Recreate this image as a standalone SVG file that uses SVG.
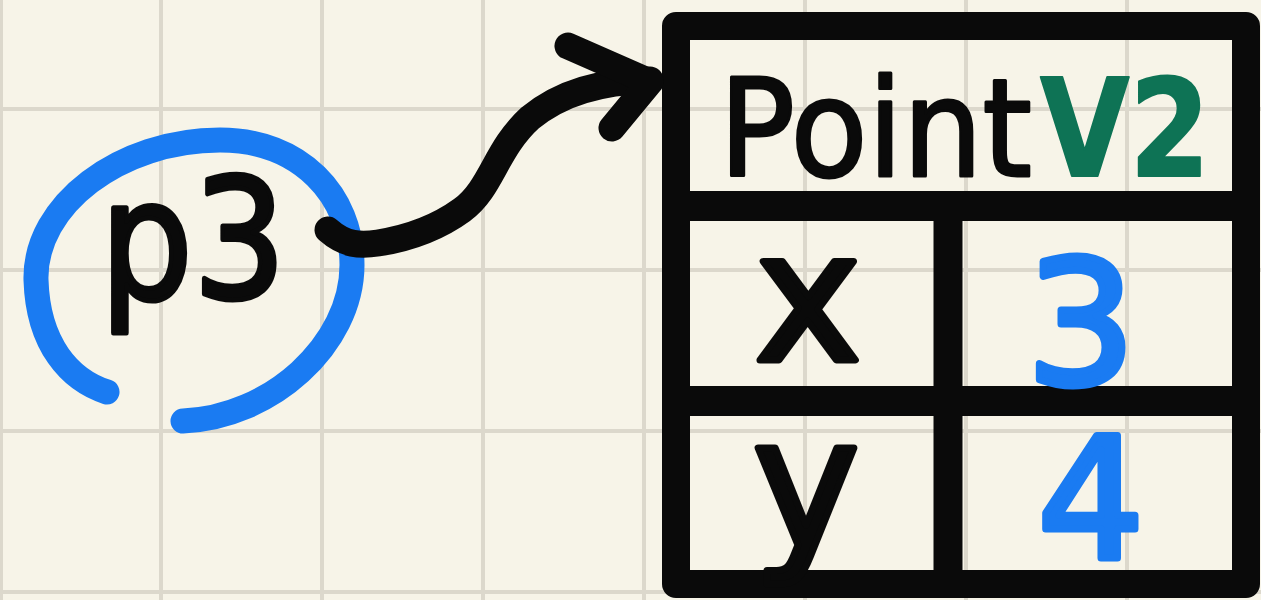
<svg xmlns="http://www.w3.org/2000/svg" width="1261" height="600" viewBox="0 0 1261 600">
<style>
.grid{stroke:#dcd8cc;stroke-width:4;fill:none}
.ink{stroke:#0a0a0a;fill:none;stroke-linecap:round;stroke-linejoin:round}
.bar{stroke:#0a0a0a;fill:none;stroke-linecap:butt}
.t{font-family:"DejaVu Sans","Noto Sans",sans-serif;stroke-linejoin:round}
</style>
<rect x="0" y="0" width="1261" height="600" fill="#f7f4e8"/>
<g id="grid" class="grid">
<line x1="1" y1="0" x2="1" y2="600"/>
<line x1="161" y1="0" x2="161" y2="600"/>
<line x1="322" y1="0" x2="322" y2="600"/>
<line x1="483" y1="0" x2="483" y2="600"/>
<line x1="644" y1="0" x2="644" y2="600"/>
<line x1="805" y1="0" x2="805" y2="600"/>
<line x1="966" y1="0" x2="966" y2="600"/>
<line x1="1127" y1="0" x2="1127" y2="600"/>
<line x1="0" y1="109" x2="1261" y2="109"/>
<line x1="0" y1="270" x2="1261" y2="270"/>
<line x1="0" y1="431" x2="1261" y2="431"/>
<line x1="0" y1="592" x2="1261" y2="592"/>
</g>
<g id="node-p3">
<path d="M107 392 C70 380 38 345 36 280 C34 205 120 140 220 140 C300 140 352 195 352 265 C352 345 270 418 183 421" stroke="#1a7bf2" stroke-width="25" fill="none" stroke-linecap="round"/>
<text class="t" x="100" y="298" font-size="165" fill="#0a0a0a" stroke="#0a0a0a" stroke-width="5" textLength="186" lengthAdjust="spacingAndGlyphs">p3</text>
</g>
<g id="node-PointV2">
<rect x="676" y="26" width="570" height="558" class="ink" stroke-width="28"/>
<line x1="676" y1="206" x2="1246" y2="206" class="bar" stroke-width="30"/>
<line x1="676" y1="401" x2="1246" y2="401" class="bar" stroke-width="30"/>
<line x1="948" y1="206" x2="948" y2="584" class="bar" stroke-width="29"/>
<text class="t" x="719" y="176" font-size="136" fill="#0a0a0a" stroke="#0a0a0a" stroke-width="3" textLength="313" lengthAdjust="spacingAndGlyphs">Point</text>
<text class="t" x="1040" y="176" font-size="136" fill="#0e7355" stroke="#0e7355" stroke-width="2" font-weight="bold" textLength="170" lengthAdjust="spacingAndGlyphs">V2</text>
<text class="t" x="808" y="360" font-size="180" fill="#0a0a0a" stroke="#0a0a0a" stroke-width="7" text-anchor="middle">x</text>
<text class="t" x="806" y="546" font-size="180" fill="#0a0a0a" stroke="#0a0a0a" stroke-width="7" text-anchor="middle">y</text>
<text class="t" x="1081" y="384" font-size="172" fill="#1a7bf2" stroke="#1a7bf2" stroke-width="7" text-anchor="middle">3</text>
<text class="t" x="1091" y="558" font-size="168" fill="#1a7bf2" stroke="#1a7bf2" stroke-width="7" text-anchor="middle">4</text>
</g>
<g id="connectors">
<path d="M328 230 C345 245 360 246 378 243 C410 238 440 226 462 210 C492 188 495 150 530 118 C562 92 600 82 650 80" class="ink" stroke-width="27"/>
<path d="M568 46 L650 82 L612 128" class="ink" stroke-width="27"/>
</g>
</svg>
